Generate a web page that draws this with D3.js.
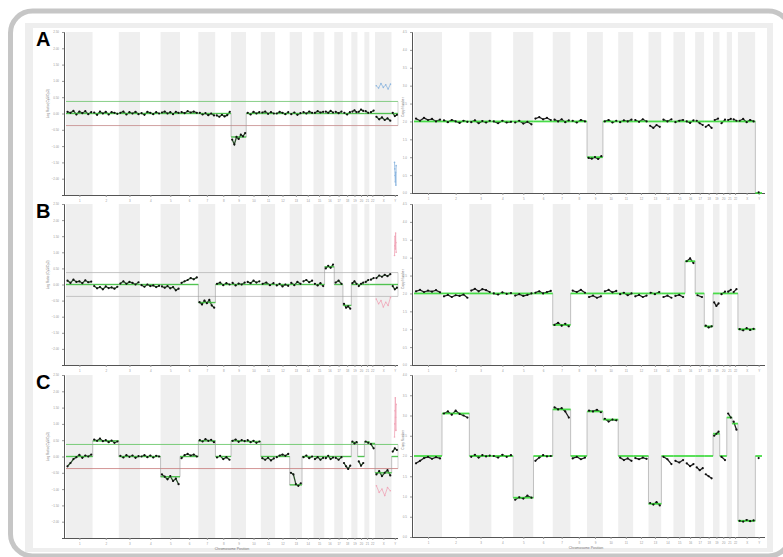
<!DOCTYPE html>
<html>
<head>
<meta charset="utf-8">
<script src="https://cdn.jsdelivr.net/npm/d3@7"></script>
<style>
body { margin: 0; background: #fff; font-family: "Liberation Sans", Arial, sans-serif; }
</style>
</head>
<body>
<svg id="chart" width="783" height="557"></svg>
<script>
var chroms = ['1','2','3','4','5','6','7','8','9','10','11','12','13','14','15','16','17','18','19','20','21','22','X','Y'];
var chromLen = [249,243,198,191,181,171,159,146,141,136,135,134,115,107,103,90,81,78,59,63,48,51,155,59];

var ratioTicks = [-2, -1.5, -1, -0.5, 0, 0.5, 1, 1.5, 2, 2.5];
var cnTicks = [0, 0.5, 1, 1.5, 2, 2.5, 3, 3.5, 4, 4.5];
var cnTicksC = [0, 0.5, 1, 1.5, 2, 2.5, 3, 3.5, 4];
var thresholds = [0.37, -0.37];

// log ratio, case A
var ratioA = [
  [0.05,0.02,0.08,-0.03,0.06,0.01,0.07,-0.02,0.04],
  [0.03,-0.04,0.06,0.0,0.05,-0.03,0.04,0.02,-0.01],
  [0.02,0.06,-0.03,0.04,0.0,0.05,-0.02],
  [0.01,-0.04,0.05,0.02,-0.02,0.04,0.0],
  [0.03,0.06,0.0,0.04,-0.02,0.05,0.02],
  [0.04,0.01,0.07,0.03,0.06,0.02],
  [0.02,-0.03,0.01,-0.05,0.0,-0.06],
  [-0.06,-0.1,-0.04,-0.09,-0.05,0.05],
  [-0.8,-0.95,-0.72,-0.78,-0.65,-0.7,-0.6],
  [0.02,-0.03,0.05,0.0,0.04],
  [0.03,0.06,-0.01,0.04,0.0],
  [0.0,0.05,0.02,-0.02,0.04],
  [-0.02,0.03,-0.04,0.01],
  [0.04,0.0,0.06,0.02],
  [0.02,0.07,0.03,0.05],
  [0.06,0.02,0.08,0.03],
  [0.05,0.01,0.06],
  [0.02,-0.03,0.04],
  [0.06,0.1,0.04],
  [0.05,0.12,0.08],
  [0.07,0.02],
  [0.04,0.09],
  [-0.1,-0.18,-0.12,-0.2,-0.15,-0.22],
  [0.02,-0.08,-0.04]
];
var segA = [0,0,0,0,0,0,0,0,-0.72,0,0,0,0,0,0,0,0,0,0,0,0,0,0,0];
var sexXA = [0.85,0.78,0.92,0.8,0.88,0.75,0.9];
var sexYA = [-1.5,-1.7,-1.9,-2.1,-1.8,-2.2,-1.6];

// log ratio, case B
var ratioB = [
  [0.12,0.05,0.15,0.08,0.1,0.04,0.13,0.07,0.09],
  [-0.05,-0.12,-0.08,-0.15,-0.06,-0.11,-0.09,-0.13,-0.07],
  [0.03,0.1,0.02,0.08,0.05,0.0,0.07],
  [-0.02,-0.07,0.0,-0.05,-0.03,-0.08,-0.04],
  [-0.06,-0.1,-0.05,-0.12,-0.08,-0.18,-0.13],
  [0.05,0.1,0.14,0.2,0.16,0.22],
  [-0.55,-0.62,-0.5,-0.58,-0.48,-0.65,-0.72],
  [0.02,0.06,-0.02,0.04,0.0],
  [0.05,-0.03,0.03,0.0,0.06],
  [0.08,0.04,0.12,0.06,0.1],
  [0.02,0.06,-0.02,0.04],
  [-0.03,0.02,-0.06,0.0,-0.04],
  [0.05,-0.02,0.08,0.02],
  [0.1,0.14,0.07,0.12],
  [0.02,-0.03,0.04,-0.05],
  [0.5,0.58,0.52,0.62],
  [0.06,0.12,0.02],
  [-0.6,-0.72,-0.68,-0.75],
  [0.04,0.1,0.02],
  [-0.05,0.02,0.06],
  [0.08,0.14],
  [0.15,0.2],
  [0.2,0.28,0.24,0.3,0.26,0.32],
  [-0.05,-0.15,-0.1]
];
var segB = [0,0,0,0,0,0,-0.56,0,0,0,0,0,0,0,0,0.55,0,-0.65,0,0,0,0,0,0];
var sexXB = [-0.45,-0.6,-0.5,-0.7,-0.55,-0.65,-0.4];
var sexYB = [0.9,1.2,1.5,1.1,1.6,1.3,1.0];

// log ratio, case C
var ratioC = [
  [-0.3,-0.2,-0.08,-0.02,0.05,-0.04,0.03,0.0,0.06],
  [0.52,0.48,0.55,0.47,0.5,0.44,0.49,0.42,0.46],
  [0.02,-0.03,0.04,-0.01,0.03,-0.04,0.01],
  [0.0,0.04,-0.02,0.03,-0.03,0.02,0.0],
  [-0.55,-0.62,-0.7,-0.6,-0.75,-0.68,-0.85],
  [-0.05,0.04,0.08,0.03,0.06,0.0],
  [0.5,0.46,0.53,0.48,0.51,0.44],
  [-0.03,0.02,-0.08,-0.02,-0.1],
  [0.48,0.52,0.45,0.5,0.47],
  [0.5,0.44,0.48,0.42,0.46],
  [-0.05,-0.1,-0.04,-0.12,-0.06],
  [-0.02,0.03,0.06,0.02,0.08],
  [-0.5,-0.55,-0.85,-0.9,-0.82],
  [-0.02,0.03,-0.05,0.0],
  [-0.08,-0.02,-0.1,-0.04],
  [-0.05,0.02,-0.08,-0.03],
  [-0.04,-0.1,-0.02],
  [-0.2,-0.3,-0.38,-0.28],
  [0.46,0.4,0.44],
  [-0.15,-0.28,-0.2],
  [0.46,0.42],
  [0.38,0.25],
  [-0.55,-0.45,-0.6,-0.5,-0.42,-0.58],
  [0.15,0.25,0.2]
];
var segC = [0,0.48,0,0,-0.62,0,0.48,0,0.48,0.46,0,0,-0.87,0,0,0,0,0,0.43,0,0.45,0.4,-0.5,0];
var sexXC = [-0.9,-1.1,-1.0,-1.2,-0.95,-1.05];
var sexYC = [0.6,1.0,1.4,1.8,1.2,0.8,1.6];

// copy number, case A
var copyA = [
  [2.08,2.02,2.1,2.04,2.07,2.0,2.05],
  [2.03,1.98,2.04,2.0,1.96,2.02,1.99],
  [1.98,2.03,1.95,2.01,1.97,2.02],
  [2.0,1.95,2.02,1.97,1.99],
  [1.97,2.02,1.94,1.99,1.92],
  [2.08,2.12,2.06,2.1,2.04],
  [2.05,2.0,2.06,1.98,2.03],
  [2.02,1.97,2.04,2.0],
  [0.98,0.96,1.0,0.95,1.03],
  [2.0,2.04,1.97,2.02],
  [1.98,2.03,2.0,2.05],
  [2.04,1.99,2.06,2.0],
  [1.88,1.82,1.9,1.85],
  [2.05,2.0,2.06],
  [1.98,2.02,2.04],
  [2.0,1.96,2.03],
  [2.02,1.95,1.9],
  [1.85,1.9,1.82],
  [2.04,2.08],
  [1.95,2.05],
  [2.04,2.07],
  [2.06,2.02],
  [2.02,2.07,1.98,2.04,2.0],
  [0.02]
];
var cnSegA = [2,2,2,2,2,2,2,2,1,2,2,2,2,2,2,2,2,2,2,2,2,2,2,0];

// copy number, case B
var copyB = [
  [2.06,2.1,2.04,2.08,2.05,2.09,2.03],
  [1.92,1.96,1.9,1.95,1.93,1.97,1.88],
  [2.08,2.13,2.06,2.12,2.09,2.04],
  [2.0,1.97,2.03,1.99,2.01],
  [1.94,1.98,1.93,1.96,2.0],
  [2.02,2.06,2.0,2.04,2.07],
  [1.12,1.18,1.1,1.15,1.08],
  [2.08,2.04,2.1,2.02],
  [1.9,1.94,1.88,1.92],
  [2.06,2.1,2.03,2.07],
  [1.98,2.02,1.95,2.0],
  [1.92,1.96,1.9,1.94],
  [2.02,1.98,2.04],
  [1.9,1.94,1.88],
  [1.93,1.96,1.9],
  [2.9,2.98,2.85],
  [1.95,1.9],
  [1.1,1.05,1.08],
  [1.75,1.65,1.72],
  [1.98,2.05],
  [2.05,2.1],
  [2.04,2.12],
  [1.0,0.97,1.03,0.98,1.01],
  []
];
var cnSegB = [2,2,2,2,2,2,1.12,2,2,2,2,2,2,2,2,2.9,2,1.08,2,2,2,2,1.0,null];

// copy number, case C
var copyC = [
  [1.82,1.88,1.95,1.98,1.93,1.97,1.94],
  [3.05,3.1,3.02,3.12,3.04,3.0,2.95],
  [1.98,2.03,1.96,2.02,1.99,2.01],
  [2.0,1.96,2.03,1.98,2.02],
  [0.92,0.98,0.95,1.02,0.97],
  [1.88,1.96,2.02,1.99,2.0],
  [3.2,3.15,3.18,3.1,2.95],
  [1.94,1.98,1.92,1.96],
  [3.12,3.1,3.14,3.08],
  [2.92,2.85,2.9,2.88],
  [1.96,1.9,1.94,1.88],
  [1.95,1.92,1.96,1.93],
  [0.84,0.8,0.86,0.78],
  [1.98,1.92,1.8],
  [1.88,1.84,1.9],
  [1.82,1.75,1.8],
  [1.72,1.65,1.7],
  [1.55,1.5,1.45],
  [2.5,2.55,2.6],
  [1.98,1.9],
  [3.05,2.95],
  [2.85,2.65],
  [0.4,0.38,0.42,0.39,0.41],
  [1.95]
];
var cnSegC = [2,3.05,2,2,0.97,2,3.15,2,3.1,2.9,2,2,0.82,2,2,2,2,2,2.55,2,2.95,2.8,0.4,2];

var starts = [0];
chromLen.forEach(function(l, i) { starts.push(starts[i] + l); });
var genomeLen = starts[starts.length - 1];

var svg = d3.select('#chart');

// outer frame
svg.append('rect')
    .attr('x', 10.5).attr('y', 11)
    .attr('width', 780).attr('height', 545)
    .attr('rx', 22)
    .style('fill', '#fff')
    .style('stroke', '#c6c6c6')
    .style('stroke-width', 5);
svg.append('rect')
    .attr('x', 25).attr('y', 23).attr('width', 748).attr('height', 529)
    .style('fill', '#eeeeee');
svg.append('rect')
    .attr('x', 33).attr('y', 28).attr('width', 734).attr('height', 520)
    .style('fill', '#fff');

var panels = [
    {kind: 'ratio', xr: [66, 398], yr: [32, 195], dom: [-2.5, 2.5], ticks: ratioTicks, data: ratioA, seg: segA,
     sexX: sexXA, sexY: sexYA, sexColor: '#8db6df', thr: ['#6cc46c', '#c58a8a'], letter: 'A'},
    {kind: 'ratio', xr: [66, 398], yr: [204, 365], dom: [-2.5, 2.5], ticks: ratioTicks, data: ratioB, seg: segB,
     sexX: sexXB, sexY: sexYB, sexColor: '#f0a6b8', thr: ['#b8b8b8', '#b8b8b8'], letter: 'B'},
    {kind: 'ratio', xr: [66, 398], yr: [375, 538], dom: [-2.5, 2.5], ticks: ratioTicks, data: ratioC, seg: segC,
     sexX: sexXC, sexY: sexYC, sexColor: '#f0a6b8', thr: ['#5cc45c', '#c87b7b'], letter: 'C', title: true},
    {kind: 'copy', xr: [414, 762], yr: [32, 193], dom: [0, 4.5], ticks: cnTicks, data: copyA, seg: cnSegA},
    {kind: 'copy', xr: [414, 762], yr: [204, 365], dom: [0, 4.5], ticks: cnTicks, data: copyB, seg: cnSegB},
    {kind: 'copy', xr: [414, 762], yr: [375, 537], dom: [0, 4], ticks: cnTicksC, data: copyC, seg: cnSegC, title: true}
];

panels.forEach(drawPanel);

function drawPanel(p) {
    var x = d3.scaleLinear().domain([0, genomeLen]).range(p.xr);
    var y = d3.scaleLinear().domain(p.dom).range([p.yr[1], p.yr[0]]);
    var g = svg.append('g');

    // chromosome bands
    g.selectAll('rect.band')
        .data(chroms)
        .enter().append('rect')
        .attr('x', function(d, i) { return x(starts[i]); })
        .attr('width', function(d, i) { return x(starts[i + 1]) - x(starts[i]); })
        .attr('y', p.yr[0])
        .attr('height', p.yr[1] - p.yr[0])
        .style('fill', function(d, i) { return i % 2 === 0 ? '#efefef' : '#fff'; });

    // axes
    var fmt = p.kind === 'ratio' ? d3.format('.2f') : d3.format('.1f');
    var yAxis = g.append('g')
        .attr('transform', 'translate(' + (p.xr[0] - 2) + ',0)')
        .call(d3.axisLeft(y).tickValues(p.ticks).tickSize(2).tickFormat(fmt));
    var xAxis = g.append('g')
        .attr('transform', 'translate(0,' + p.yr[1] + ')')
        .call(d3.axisBottom(x)
            .tickValues(chroms.map(function(c, i) { return starts[i] + chromLen[i] / 2; }))
            .tickSize(2)
            .tickFormat(function(d, i) { return chroms[i]; }));
    [yAxis, xAxis].forEach(function(a) {
        a.select('.domain').style('stroke', '#555').style('stroke-width', 1);
        a.selectAll('.tick line').style('stroke', '#999');
        a.selectAll('text').style('font-size', '3px').style('fill', '#999');
    });
    xAxis.select('.domain').attr('d', 'M' + (p.xr[0] - 2) + ',0.5H' + (p.xr[1] + (p.kind === 'copy' ? 3 : 0)));

    // axis labels
    var midY = y(p.kind === 'ratio' ? 0.3 : 2.4);
    var labelX = p.kind === 'ratio' ? 49 : 404;
    g.append('text')
        .attr('transform', 'translate(' + labelX + ',' + midY + ') rotate(-90)')
        .attr('text-anchor', 'middle')
        .text(p.kind === 'ratio' ? 'Log Ratio (Cy5/Cy3)' : 'Copy Number')
        .style('font-size', '3.2px')
        .style('fill', '#777');
    if (p.title) {
        g.append('text')
            .attr('x', (p.xr[0] + p.xr[1]) / 2 + (p.kind === 'ratio' ? 0 : -2))
            .attr('y', p.yr[1] + 12)
            .attr('text-anchor', 'middle')
            .text('Chromosome Position')
            .style('font-size', '3.5px')
            .style('fill', '#777');
    }
    if (p.letter) {
        g.append('text')
            .attr('x', 36)
            .attr('y', p.yr[0] + 14)
            .text(p.letter)
            .style('font-size', '20px')
            .style('font-weight', 'bold')
            .style('fill', '#000');
    }

    // threshold lines
    if (p.thr) {
        thresholds.forEach(function(t, k) {
            g.append('line')
                .attr('x1', p.xr[0]).attr('x2', p.xr[1])
                .attr('y1', y(t)).attr('y2', y(t))
                .style('stroke', p.thr[k])
                .style('stroke-width', 0.8);
        });
        g.append('line')
            .attr('x1', p.xr[1]).attr('x2', p.xr[1])
            .attr('y1', y(thresholds[0])).attr('y2', y(thresholds[1]))
            .style('stroke', '#bbb')
            .style('stroke-width', 0.6);
    }

    // sex chromosome overlay (off-scale probes)
    if (p.sexX) {
        var iX = 22, iY = 23;
        var sx = p.sexX.map(function(v, j) {
            return [x(starts[iX] + chromLen[iX] * (j + 0.5) / p.sexX.length), y(v)];
        });
        var sy = p.sexY.map(function(v, j) {
            return [x(starts[iY] + chromLen[iY] * (0.45 + 0.3 * j / p.sexY.length)), y(v)];
        });
        [sx, sy].forEach(function(pts) {
            g.append('path')
                .attr('d', d3.line()(pts))
                .style('fill', 'none')
                .style('stroke', p.sexColor)
                .style('stroke-width', 0.8);
            g.selectAll(null).data(pts).enter().append('circle')
                .attr('cx', function(d) { return d[0]; })
                .attr('cy', function(d) { return d[1]; })
                .attr('r', 0.8)
                .style('fill', p.sexColor);
        });
    }

    // segmentation step line (grey connectors)
    var step = '';
    var last = null;
    p.seg.forEach(function(lv, i) {
        if (lv === null) { return; }
        var xs = x(starts[i]), xe = x(starts[i + 1]);
        if (last === null) {
            step += 'M' + xs + ',' + y(lv);
        } else {
            step += 'V' + y(lv);
        }
        step += 'H' + xe;
        last = lv;
    });
    g.append('path')
        .attr('d', step)
        .style('fill', 'none')
        .style('stroke', '#9a9a9a')
        .style('stroke-width', 0.6);

    // data wiggle
    var line = d3.line();
    p.data.forEach(function(vals, i) {
        var n = vals.length;
        if (!n) { return; }
        var pts = vals.map(function(v, j) {
            return [x(starts[i] + chromLen[i] * (j + 0.5) / n), y(v)];
        });
        g.append('path')
            .attr('d', line(pts))
            .style('fill', 'none')
            .style('stroke', p.kind === 'ratio' ? '#2a4f2a' : '#222')
            .style('stroke-width', 1.3);
    });

    // green segment levels
    p.seg.forEach(function(lv, i) {
        if (lv === null) { return; }
        g.append('line')
            .attr('x1', x(starts[i])).attr('x2', x(starts[i + 1]))
            .attr('y1', y(lv)).attr('y2', y(lv))
            .style('stroke', p.kind === 'ratio' ? '#3ec43e' : '#33e033')
            .style('stroke-width', p.kind === 'ratio' ? 1.4 : 1.8)
            .style('opacity', 0.85);
    });

    // probe dots
    p.data.forEach(function(vals, i) {
        var n = vals.length;
        g.selectAll(null).data(vals).enter().append('circle')
            .attr('cx', function(v, j) { return x(starts[i] + chromLen[i] * (j + 0.5) / n); })
            .attr('cy', function(v) { return y(v); })
            .attr('r', 1.1)
            .style('fill', '#111');
    });
}
</script>
</body>
</html>
